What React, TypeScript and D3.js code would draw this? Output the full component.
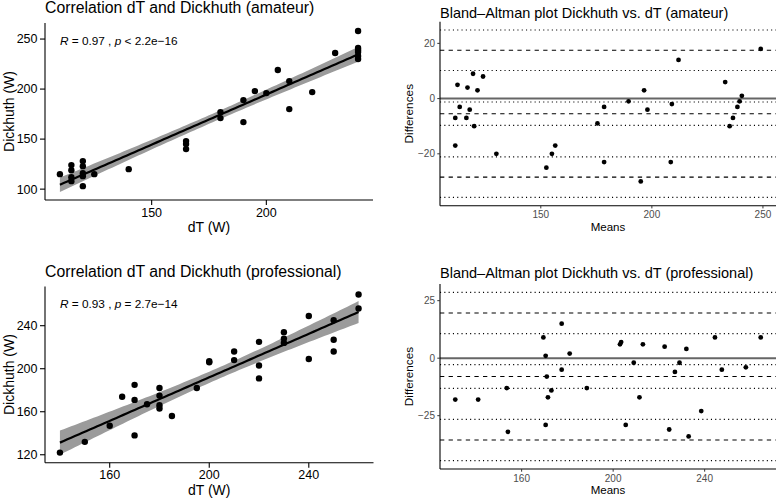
import React from 'react'
import * as d3 from 'd3'

// amateur group: paired measurements (W)
const amateurDT = [110, 115, 115, 115, 115, 120, 120, 120, 120, 120, 125, 140, 165, 165, 165, 180, 180, 190, 190, 195, 200, 205, 210, 210, 220, 230, 240, 240, 240, 240, 240, 240]
const amateurDick = [115, 108, 112, 119, 124, 103, 113, 116, 123, 128, 115, 120, 140, 145, 148, 171, 177, 167, 189, 198, 196, 219, 180, 208, 197, 236, 230, 233, 237, 241, 258, 239]

// professional group
const proDT = [140, 150, 160, 165, 170, 170, 170, 175, 180, 180, 180, 180, 185, 195, 200, 200, 210, 210, 220, 220, 220, 230, 230, 230, 240, 240, 250, 250, 250, 260, 260]
const proDick = [122, 132, 147, 174, 185, 171, 138, 167, 182, 175, 166, 163, 156, 182, 207, 206, 216, 208, 225, 203, 191, 234, 228, 224, 249, 209, 245, 227, 216, 269, 256]

const amateurCorrXTicks = [150, 200]
const amateurCorrYTicks = [100, 150, 200, 250]
const proCorrXTicks = [160, 200, 240]
const proCorrYTicks = [120, 160, 200, 240]
const amateurBAXTicks = [150, 200, 250]
const amateurBAYTicks = [-20, 0, 20]
const proBAXTicks = [160, 200, 240]
const proBAYTicks = [-25, 0, 25]

const amateurStat = { r: '0.97', op: '<', p: '2.2e−16' }
const proStat = { r: '0.93', op: '=', p: '2.7e−14' }

const FONT = '"Liberation Sans", Arial, Helvetica, sans-serif'

type Box = { left: number; right: number; top: number; bottom: number; titleY: number }

const expand = (ext: [number, number], f = 0.05): [number, number] => {
  const r = ext[1] - ext[0]
  return [ext[0] - r * f, ext[1] + r * f]
}

// Cornish-Fisher approximation of the 97.5% t quantile
const tQuantile = (df: number) => {
  const z = 1.959964
  return z + (z ** 3 + z) / (4 * df) + (5 * z ** 5 + 16 * z ** 3 + 3 * z) / (96 * df * df)
}

const fitBand = (xs: number[], ys: number[]) => {
  const n = xs.length
  const mx = d3.mean(xs)!
  const my = d3.mean(ys)!
  const sxx = d3.sum(xs, x => (x - mx) ** 2)
  const sxy = d3.sum(xs.map((x, i) => (x - mx) * (ys[i] - my)))
  const slope = sxy / sxx
  const intercept = my - slope * mx
  const rss = d3.sum(xs.map((x, i) => (ys[i] - intercept - slope * x) ** 2))
  const se = Math.sqrt(rss / (n - 2))
  const t = tQuantile(n - 2)
  const [x0, x1] = d3.extent(xs) as [number, number]
  return d3.range(81).map(i => {
    const x = x0 + ((x1 - x0) * i) / 80
    const fit = intercept + slope * x
    const w = t * se * Math.sqrt(1 / n + (x - mx) ** 2 / sxx)
    return { x, fit, lo: fit - w, hi: fit + w }
  })
}

const CorrPanel = ({ dT, dick, xTicks, yTicks, title, stat, box }: any) => {
  const band = fitBand(dT, dick)
  const x = d3.scaleLinear().domain(expand(d3.extent(dT) as [number, number])).range([box.left, box.right])
  const yExt = d3.extent([...dick, ...band.map(b => b.lo), ...band.map(b => b.hi)]) as [number, number]
  const y = d3.scaleLinear().domain(expand(yExt)).range([box.bottom, box.top])
  const area = d3.area<any>().x(d => x(d.x)).y0(d => y(d.lo)).y1(d => y(d.hi))
  const line = d3.line<any>().x(d => x(d.x)).y(d => y(d.fit))
  const cy = (box.top + box.bottom) / 2
  return (
    <g fontFamily={FONT}>
      <text x={box.left} y={box.titleY} fontSize={15.8} fill="#000">{title}</text>
      <path d={area(band)!} fill="#9b9b9b" />
      <path d={line(band)!} fill="none" stroke="#000" strokeWidth={2.2} />
      {dT.map((v: number, i: number) => (
        <circle key={i} cx={x(v)} cy={y(dick[i])} r={3.2} fill="#000" />
      ))}
      <text x={x(d3.min(dT) as number)} y={y(d3.max(dick) as number) + 13.5} fontSize={11.8} fill="#000">
        <tspan fontStyle="italic">R</tspan>
        <tspan>{` = ${stat.r} , `}</tspan>
        <tspan fontStyle="italic">p</tspan>
        <tspan>{` ${stat.op} ${stat.p}`}</tspan>
      </text>
      <line x1={box.left} x2={box.left} y1={box.top} y2={box.bottom} stroke="#000" strokeWidth={1.1} />
      <line x1={box.left} x2={box.right} y1={box.bottom} y2={box.bottom} stroke="#000" strokeWidth={1.1} />
      {yTicks.map((t: number) => (
        <g key={t}>
          <line x1={box.left - 5} x2={box.left} y1={y(t)} y2={y(t)} stroke="#000" strokeWidth={1.1} />
          <text x={box.left - 7.5} y={y(t)} dy="0.35em" textAnchor="end" fontSize={12.5} fill="#000">{t}</text>
        </g>
      ))}
      {xTicks.map((t: number) => (
        <g key={t}>
          <line x1={x(t)} x2={x(t)} y1={box.bottom} y2={box.bottom + 5} stroke="#000" strokeWidth={1.1} />
          <text x={x(t)} y={box.bottom + 16.5} textAnchor="middle" fontSize={12.5} fill="#000">{t}</text>
        </g>
      ))}
      <text x={(box.left + box.right) / 2} y={box.bottom + 32.3} textAnchor="middle" fontSize={14} fill="#000">dT (W)</text>
      <text transform={`translate(14,${cy}) rotate(-90)`} textAnchor="middle" fontSize={14} fill="#000">Dickhuth (W)</text>
    </g>
  )
}

const BAPanel = ({ dT, dick, xTicks, yTicks, title, box }: any) => {
  const means = dT.map((v: number, i: number) => (v + dick[i]) / 2)
  const diffs = dT.map((v: number, i: number) => dick[i] - v)
  const n = diffs.length
  const md = d3.mean(diffs) as number
  const sd = d3.deviation(diffs) as number
  const t = tQuantile(n - 1)
  const up = md + 1.96 * sd
  const lo = md - 1.96 * sd
  const ciMean = (t * sd) / Math.sqrt(n)
  const ciLoa = t * Math.sqrt((3 * sd * sd) / n)
  const dashed = [up, md, lo]
  const dotted = [up - ciLoa, up + ciLoa, md - ciMean, md + ciMean, lo - ciLoa, lo + ciLoa]
  const x = d3.scaleLinear().domain(expand(d3.extent(means) as [number, number])).range([box.left, box.right])
  const yExt = d3.extent([...diffs, ...dotted]) as [number, number]
  const y = d3.scaleLinear().domain(expand(yExt)).range([box.bottom, box.top])
  const cy = (box.top + box.bottom) / 2
  return (
    <g fontFamily={FONT}>
      <text x={box.left} y={box.titleY} fontSize={14.5} fill="#000">{title}</text>
      {dotted.map((v, i) => (
        <line key={'o' + i} x1={box.left} x2={box.right} y1={y(v)} y2={y(v)} stroke="#000" strokeWidth={1.1} strokeDasharray="1.1 3.2" />
      ))}
      {dashed.map((v, i) => (
        <line key={'a' + i} x1={box.left} x2={box.right} y1={y(v)} y2={y(v)} stroke="#000" strokeWidth={1.1} strokeDasharray="4.3 4.3" />
      ))}
      <line x1={box.left} x2={box.right} y1={y(0)} y2={y(0)} stroke="#666" strokeWidth={2} />
      {means.map((m: number, i: number) => (
        <circle key={i} cx={x(m)} cy={y(diffs[i])} r={2.4} fill="#000" />
      ))}
      <line x1={box.left} x2={box.left} y1={box.top} y2={box.bottom} stroke="#000" strokeWidth={1.1} />
      <line x1={box.left} x2={box.right} y1={box.bottom} y2={box.bottom} stroke="#000" strokeWidth={1.1} />
      {yTicks.map((v: number) => (
        <g key={v}>
          <line x1={box.left - 2.7} x2={box.left} y1={y(v)} y2={y(v)} stroke="#333" strokeWidth={1} />
          <text x={box.left - 5} y={y(v)} dy="0.35em" textAnchor="end" fontSize={10} fill="#4d4d4d">{d3.format('d')(v)}</text>
        </g>
      ))}
      {xTicks.map((v: number) => (
        <g key={v}>
          <line x1={x(v)} x2={x(v)} y1={box.bottom} y2={box.bottom + 2.7} stroke="#333" strokeWidth={1} />
          <text x={x(v)} y={box.bottom + 12.5} textAnchor="middle" fontSize={10} fill="#4d4d4d">{v}</text>
        </g>
      ))}
      <text x={(box.left + box.right) / 2} y={box.bottom + 25.3} textAnchor="middle" fontSize={11.5} fill="#000">Means</text>
      <text transform={`translate(${box.left - 27},${cy}) rotate(-90)`} textAnchor="middle" fontSize={11.8} fill="#000">Differences</text>
    </g>
  )
}

const boxes: Box[] = [
  { left: 45, right: 373, top: 23, bottom: 200, titleY: 13.3 },
  { left: 440, right: 776, top: 21.7, bottom: 205.7, titleY: 18.3 },
  { left: 45, right: 373.5, top: 286.5, bottom: 462.7, titleY: 277.3 },
  { left: 440, right: 776, top: 284, bottom: 469, titleY: 278.3 },
]

export default function App() {
  return (
    <svg width={778} height={499} style={{ position: 'absolute', left: 0, top: 0, background: '#fff' }}>
      <rect width={778} height={499} fill="#fff" />
      <CorrPanel dT={amateurDT} dick={amateurDick} xTicks={amateurCorrXTicks} yTicks={amateurCorrYTicks}
        title="Correlation dT and Dickhuth (amateur)" stat={amateurStat} box={boxes[0]} />
      <BAPanel dT={amateurDT} dick={amateurDick} xTicks={amateurBAXTicks} yTicks={amateurBAYTicks}
        title="Bland–Altman plot Dickhuth vs. dT (amateur)" box={boxes[1]} />
      <CorrPanel dT={proDT} dick={proDick} xTicks={proCorrXTicks} yTicks={proCorrYTicks}
        title="Correlation dT and Dickhuth (professional)" stat={proStat} box={boxes[2]} />
      <BAPanel dT={proDT} dick={proDick} xTicks={proBAXTicks} yTicks={proBAYTicks}
        title="Bland–Altman plot Dickhuth vs. dT (professional)" box={boxes[3]} />
    </svg>
  )
}
